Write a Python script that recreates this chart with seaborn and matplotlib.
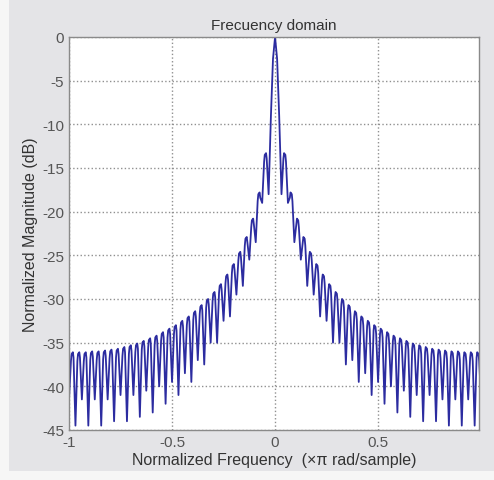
import numpy as np
import pandas as pd
import matplotlib.pyplot as plt
from matplotlib.patches import Rectangle
import seaborn as sns

# Main lobe samples (positive side)
main_freq = [0.0, 0.010, 0.020]
main_db = [0.0, -2.5, -9.0]
first_null_db = -18.0

# Side lobe peaks (positive frequencies, lobe 1..31)
peak_db = [-13.3, -17.8, -20.8, -22.9, -24.6, -26.0, -27.2, -28.3, -29.2, -30.0,
           -30.7, -31.4, -32.0, -32.5, -33.0, -33.4, -33.8, -34.2, -34.5, -34.8,
           -35.1, -35.3, -35.5, -35.7, -35.8, -35.9, -36.0, -36.0, -36.1, -36.1,
           -36.1]
# Troughs after each side lobe
trough_db = [-19.0, -23.5, -25.5, -28.5, -29.5, -32.0, -32.5, -35.0, -35.0, -37.5,
             -37.0, -39.5, -38.5, -41.0, -39.5, -42.0, -40.0, -43.0, -40.5, -43.5,
             -41.0, -44.0, -41.0, -44.0, -41.5, -44.5, -41.5, -44.5, -41.5, -44.5,
             -41.5]

lobe_width = 2 / 64
n_lobes = len(peak_db)
centers = np.linspace(1.5 * lobe_width, (n_lobes + 0.5) * lobe_width, n_lobes)

# positive half: main lobe, first null, then steep up / flat top / steep down per lobe
f_pos = list(main_freq) + [lobe_width]
m_pos = list(main_db) + [first_null_db]
for c, p, t in zip(centers, peak_db, trough_db):
    f_pos += [c - 0.2 * lobe_width, c - 0.1 * lobe_width, c + 0.1 * lobe_width,
              c + 0.2 * lobe_width, c + 0.5 * lobe_width]
    m_pos += [p - 0.6, p, p - 0.2, p - 1.0, t]
f_pos = np.array(f_pos)
m_pos = np.array(m_pos)

freq = np.concatenate([-f_pos[:0:-1], f_pos])
mag = np.concatenate([m_pos[:0:-1], m_pos])
df = pd.DataFrame({'freq': freq, 'mag': mag})

sns.set_style('white')
plt.rcParams['font.family'] = ['Liberation Sans', 'DejaVu Sans']

fig = plt.figure(figsize=(4.94, 4.81), dpi=100, facecolor='#e4e4e7')
fig.patches.append(Rectangle((0, 0), 9 / 494, 1, transform=fig.transFigure,
                             facecolor='#f6f6f6', edgecolor='none', zorder=-1))
fig.patches.append(Rectangle((0, 0), 1, 9 / 481, transform=fig.transFigure,
                             facecolor='#f6f6f6', edgecolor='none', zorder=-1))
ax = fig.add_axes([0.1397, 0.104, 0.830, 0.817])
ax.set_facecolor('white')

sns.lineplot(data=df, x='freq', y='mag', sort=False, color='#2c2ca0',
             linewidth=1.3, ax=ax, estimator=None)

ax.set_xlim(-1, 0.99)
ax.set_ylim(-45, 0)
ax.set_xticks([-1, -0.5, 0, 0.5])
ax.set_xticklabels(['-1', '-0.5', '0', '0.5'])
ax.set_yticks(np.arange(-45, 1, 5))
ax.set_yticklabels([str(v) for v in np.arange(-45, 1, 5)])
ax.grid(True, linestyle=':', color='#909090', linewidth=1.0)
ax.tick_params(direction='in', length=3, colors='#777777', labelcolor='#555555',
               labelsize=11)
for s in ax.spines.values():
    s.set_color('#8a8a8a')
    s.set_linewidth(1.0)

ax.set_title('Frecuency domain', fontsize=11, color='#333333', pad=6)
ax.set_xlabel('Normalized Frequency  (\u00d7\u03c0 rad/sample)', fontsize=11.5,
              color='#333333', labelpad=2)
ax.set_ylabel('Normalized Magnitude (dB)', fontsize=11.5, color='#333333', labelpad=3)

fig.savefig('out.png', dpi=100, facecolor=fig.get_facecolor())
